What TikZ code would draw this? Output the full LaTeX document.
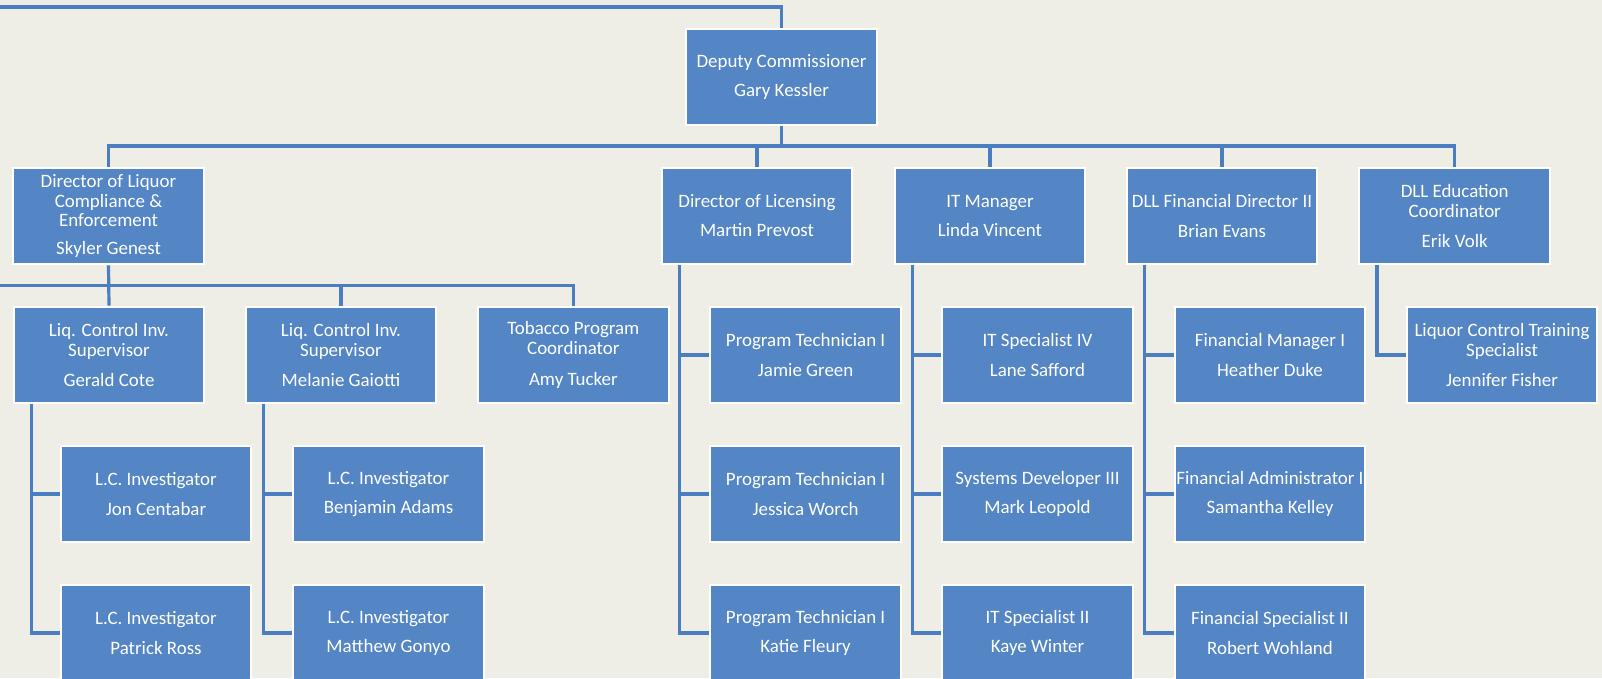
\documentclass[tikz,border=0pt]{standalone}
\usepackage{fontspec}
\setmainfont{Carlito}
\definecolor{bg}{RGB}{238,237,230}
\definecolor{boxblue}{RGB}{84,134,197}
\definecolor{linkblue}{RGB}{74,126,192}
\begin{document}
\begin{tikzpicture}[x=0.75pt,y=-0.75pt,
  box/.style={draw=white, line width=1.5pt, fill=boxblue, minimum width=143pt, minimum height=72.5pt, inner sep=0pt, align=center, text=white, font=\fontsize{14.2}{14.8}\selectfont},
  link/.style={draw=linkblue, line width=2.4pt}]
\useasboundingbox (0,0) rectangle (1602,678);
\fill[bg] (0,0) rectangle (1602,678);
% level 1
\node[box] (dep) at (781.5,77) {Deputy Commissioner\\[7pt]Gary Kessler};
% level 2
\node[box] (dlc) at (108.5,216) {Director of Liquor\\Compliance \&\\Enforcement\\[6pt]Skyler Genest};
\node[box] (dlic) at (757,216) {Director of Licensing\\[7pt]Martin Prevost};
\node[box] (itm) at (990,216) {IT Manager\\[7pt]Linda Vincent};
\node[box] (dfd) at (1222,216) {DLL Financial Director II\\[7pt]Brian Evans};
\node[box] (dedu) at (1454.7,216) {DLL Education\\Coordinator\\[8pt]Erik Volk};
% level 3
\node[box] (sup1) at (109,355) {Liq. Control Inv.\\Supervisor\\[8pt]Gerald Cote};
\node[box] (sup2) at (341,355) {Liq. Control Inv.\\Supervisor\\[8pt]Melanie Gaiotti};
\node[box] (tob) at (573.3,355) {Tobacco Program\\Coordinator\\[8pt]Amy Tucker};
\node[box] (pt1) at (805.6,355) {Program Technician I\\[7pt]Jamie Green};
\node[box] (its4) at (1037.5,355) {IT Specialist IV\\[7pt]Lane Safford};
\node[box] (fm1) at (1270,355) {Financial Manager I\\[7pt]Heather Duke};
\node[box] (lct) at (1502,355) {Liquor Control Training\\Specialist\\[8pt]Jennifer Fisher};
% level 4 / 5
\node[box] (lc1) at (156,494) {L.C. Investigator\\[7pt]Jon Centabar};
\node[box] (lc2) at (156,633) {L.C. Investigator\\[7pt]Patrick Ross};
\node[box] (lc3) at (388.5,494) {L.C. Investigator\\[7pt]Benjamin Adams};
\node[box] (lc4) at (388.5,633) {L.C. Investigator\\[7pt]Matthew Gonyo};
\node[box] (pt2) at (805.6,494) {Program Technician I\\[7pt]Jessica Worch};
\node[box] (pt3) at (805.6,633) {Program Technician I\\[7pt]Katie Fleury};
\node[box] (sd3) at (1037.5,494) {Systems Developer III\\[7pt]Mark Leopold};
\node[box] (its2) at (1037.5,633) {IT Specialist II\\[7pt]Kaye Winter};
\node[box] (fa1) at (1270,494) {Financial Administrator I\\[7pt]Samantha Kelley};
\node[box] (fs2) at (1270,633) {Financial Specialist II\\[7pt]Robert Wohland};
% connectors
\coordinate (tl) at (0,7);
\coordinate (b1) at (0,146);
\coordinate (b2) at (0,285.3);
\draw[link] (tl) -| (dep.north);
\draw[link] (dep.south) -- (dep.south |- b1);
\draw[link] (dlc.north) |- (dedu.north |- b1) -- (dedu.north);
\draw[link] (dlic.north) -- (dlic.north |- b1);
\draw[link] (itm.north) -- (itm.north |- b1);
\draw[link] (dfd.north) -- (dfd.north |- b1);
\draw[link] (dlc.south) -- (sup1.north);
\draw[link] (b2) -| (tob.north);
\draw[link] (sup2.north) -- (sup2.north |- b2);
\foreach \p/\c in {sup1/lc1, sup1/lc2, sup2/lc3, sup2/lc4, dlic/pt1, dlic/pt2, dlic/pt3, itm/its4, itm/sd3, itm/its2, dfd/fm1, dfd/fa1, dfd/fs2, dedu/lct}
  \draw[link] ([xshift=13.9pt]\p.south west) |- (\c.west);
\end{tikzpicture}
\end{document}
